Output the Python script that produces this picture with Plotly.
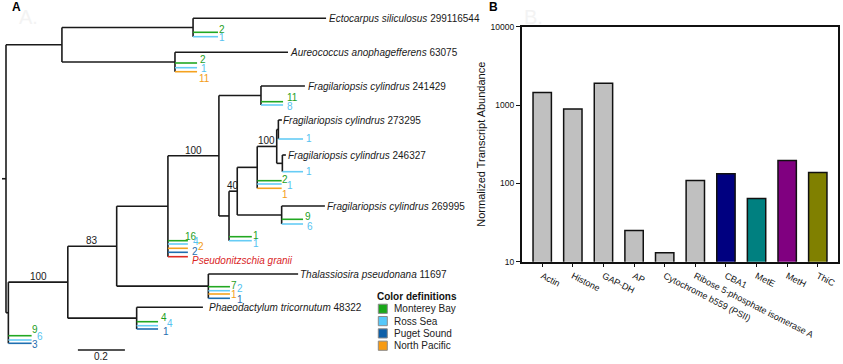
import plotly.graph_objects as go

FONT = "Liberation Sans, Arial, sans-serif"

# ---------------- Panel B data ----------------
genes = ["Actin", "Histone", "GAP-DH", "AP", "Cytochrome b559 (PSII)",
         "Ribose 5-phosphate isomerase A", "CBA1", "MetE", "MetH", "ThiC"]
abundance = [1450, 890, 1900, 25, 13, 109, 133, 64, 196, 138]
bar_colors = ["#c0c0c0"] * 6 + ["#000080", "#008080", "#800080", "#808000"]
y_tickvals = [10, 100, 1000, 10000]
y_ticktext = ["10", "100", "1000", "10000"]

# ---------------- Panel A data (tree) ----------------
node_name = ["root", "A", "A1", "A2", "N1", "N2", "N3", "Nphaeo", "Nthal", "N4",
             "N5", "Nf241", "N6", "N7", "N9", "N8", "Nf273", "Nf246", "N10"]
node_parent = [None, "root", "A", "A", "root", "N1", "N2", "N2", "N3", "N3",
               "N4", "N5", "N5", "N6", "N7", "N9", "N8", "N8", "N7"]
node_depth = [0.0, 0.238, 0.796, 0.719, 0.010, 0.263, 0.471, 0.556, 0.861, 0.689,
              0.906, 1.085, 0.949, 0.984, 1.069, 1.152, 1.159, 1.176, 1.173]
support_node = ["N2", "N3", "N5", "N7", "N8"]
support_value = ["100", "83", "100", "40", "100"]
root_stem = 0.017

tip_parent = ["A1", "A1", "A1", "A2", "A2", "A2", "A2",
              "Nf241", "Nf241", "Nf241", "Nf273", "Nf273", "Nf246", "Nf246",
              "N9", "N9", "N9", "N10", "N10", "N10", "N6", "N6",
              "N4", "N4", "N4", "N4", "N4",
              "Nthal", "Nthal", "Nthal", "Nthal", "Nthal",
              "Nphaeo", "Nphaeo", "Nphaeo", "Nphaeo", "N1", "N1", "N1"]
tip_depth = [1.362, 0.902, 0.902, 1.200, 0.813, 0.813, 0.813,
             1.272, 1.179, 1.179, 1.174, 1.264, 1.191, 1.264,
             1.173, 1.173, 1.173, 1.357, 1.264, 1.264, 1.046, 1.046,
             0.774, 0.774, 0.774, 0.774, 0.774,
             1.243, 0.953, 0.953, 0.953, 0.953,
             0.838, 0.647, 0.647, 0.647, 0.109, 0.109, 0.109]
tip_row = [18.3, 32.3, 36.7, 52.3, 63.0, 67.7, 71.7,
           86.0, 101.7, 105.0, 120.0, 139.0, 155.0, 171.7,
           180.7, 184.0, 188.3, 206.0, 219.3, 224.0, 236.7, 240.7,
           240.7, 244.0, 248.3, 252.3, 256.7,
           274.0, 286.7, 290.7, 294.0, 298.3,
           307.3, 321.7, 325.7, 329.0, 335.7, 340.0, 343.3]
tip_region = ["taxon", "MB", "RS", "taxon", "MB", "RS", "NP",
              "taxon", "MB", "RS", "taxon", "RS", "taxon", "RS",
              "MB", "RS", "NP", "taxon", "MB", "RS", "MB", "RS",
              "MB", "RS", "NP", "PS", "ref",
              "taxon", "MB", "RS", "NP", "PS",
              "taxon", "MB", "RS", "PS", "MB", "RS", "PS"]
tip_label = ["<i>Ectocarpus siliculosus</i> 299116544", "2", "1",
             "<i>Aureococcus anophagefferens</i> 63075", "2", "1", "11",
             "<i>Fragilariopsis cylindrus</i> 241429", "11", "8",
             "<i>Fragilariopsis cylindrus</i> 273295", "1",
             "<i>Fragilariopsis cylindrus</i> 246327", "1",
             "2", "1", "1",
             "<i>Fragilariopsis cylindrus</i> 269995", "9", "6", "1", "1",
             "16", "4", "2", "2", "<i>Pseudonitzschia granii</i>",
             "<i>Thalassiosira pseudonana</i> 11697", "7", "2", "1", "1",
             "<i>Phaeodactylum tricornutum</i> 48322", "4", "4", "1",
             "9", "6", "3"]

region_key = ["MB", "RS", "PS", "NP"]
region_name = ["Monterey Bay", "Ross Sea", "Puget Sound", "North Pacific"]

scale_length = 0.2

# ---------------- styling (not data) ----------------
line_color = {"taxon": "#1a1a1a", "MB": "#22a822", "RS": "#66ccf5",
              "PS": "#1f6eb0", "NP": "#f5a21f", "ref": "#e02a22"}
text_color = {"taxon": "#1a1a1a", "MB": "#1ea01e", "RS": "#55c2f0",
              "PS": "#1f6eb0", "NP": "#f39c18", "ref": "#d9261f"}
legend_fill = {"MB": "#1aa81a", "RS": "#55c8fa", "PS": "#0d5fa8", "NP": "#f79a12"}
# label nudges in pixels (dx right, dy down) relative to the tip end
label_dx = [3, 1, 1, 2, 3, 4, 2, 3, 4, 4, 1, 3, 2, 3, 0.5, 5.5, 0, 2, 2, 4, 1.5, 1.5,
            -3, 5, 10, 4, 4, 2, 1, 7, 1, 7, 6, 3, 9, 5, 0.5, 5.5, 0.5]
label_dy = [0, -3, 1, 0, -3.7, 0.6, 6.6, 0, -4, 1.7, 0, -1, 0, 0, -1.7, 1, 5.7, 0,
            -2.6, 2.7, -1.7, 2.6, -4.7, -2.7, -1.6, -1.3, 3.3, 0, -1.5, -2.7, 0, 0.7,
            0, -4.7, -2, 2, -6, -3.3, 1]

PX_PER_UNIT = 235.0
W, H = 843, 364

# ---------------- tree layout computation ----------------
depth = dict(zip(node_name, node_depth))
parent = dict(zip(node_name, node_parent))
children = {n: [] for n in node_name}
for n, p in zip(node_name, node_parent):
    if p is not None:
        children[p].append(("node", n))
for i, p in enumerate(tip_parent):
    children[p].append(("tip", i))

row = {}


def compute_row(n):
    rows = []
    for kind, c in children[n]:
        if kind == "tip":
            rows.append(tip_row[c])
        else:
            rows.append(compute_row(c))
    row[n] = (min(rows) + max(rows)) / 2.0
    return row[n]


compute_row("root")


def child_rows(n):
    out = []
    for kind, c in children[n]:
        out.append(tip_row[c] if kind == "tip" else row[c])
    return out


fig = go.Figure()

# black internal skeleton
bx, by = [], []
for n in node_name:
    cr = child_rows(n)
    bx += [depth[n], depth[n], None]
    by += [min(cr), max(cr), None]
    if parent[n] is not None:
        bx += [depth[parent[n]], depth[n], None]
        by += [row[n], row[n], None]
bx += [depth["root"] - root_stem, depth["root"], None]
by += [row["root"], row["root"], None]

# tips grouped by region
seg = {k: ([], []) for k in line_color}
for i in range(len(tip_parent)):
    k = tip_region[i]
    seg[k][0].extend([depth[tip_parent[i]], tip_depth[i], None])
    seg[k][1].extend([tip_row[i], tip_row[i], None])

fig.add_trace(go.Scatter(x=bx, y=by, mode="lines", xaxis="x2", yaxis="y2",
                         line=dict(color=line_color["taxon"], width=1.6),
                         hoverinfo="skip", showlegend=False))
for k in ["taxon", "ref", "PS", "NP", "RS", "MB"]:
    fig.add_trace(go.Scatter(x=seg[k][0], y=seg[k][1], mode="lines",
                             xaxis="x2", yaxis="y2",
                             line=dict(color=line_color[k], width=1.6),
                             hoverinfo="skip", showlegend=False))

# scale bar
sb_x0 = 0.306
sb_row = 350
fig.add_trace(go.Scatter(x=[sb_x0, sb_x0 + scale_length], y=[sb_row, sb_row],
                         mode="lines", xaxis="x2", yaxis="y2",
                         line=dict(color="#1a1a1a", width=1.6),
                         hoverinfo="skip", showlegend=False))

annotations = []
# tip labels
for i, lab in enumerate(tip_label):
    k = tip_region[i]
    annotations.append(dict(
        x=tip_depth[i], y=tip_row[i], xref="x2", yref="y2", text=lab,
        showarrow=False, xanchor="left", yanchor="middle",
        xshift=label_dx[i] - 1, yshift=-label_dy[i],
        font=dict(family=FONT, size=10, color=text_color[k]), borderpad=0))

# support values
for n, v in zip(support_node, support_value):
    annotations.append(dict(
        x=(depth[parent[n]] + depth[n]) / 2, y=row[n], xref="x2", yref="y2",
        text=v, showarrow=False, xanchor="center", yanchor="bottom", yshift=-1,
        font=dict(family=FONT, size=10, color="#1a1a1a"), borderpad=0))

# scale bar label
annotations.append(dict(x=sb_x0 + scale_length / 2, y=sb_row, xref="x2", yref="y2",
                        text=str(scale_length), showarrow=False, xanchor="center",
                        yanchor="top", yshift=0,
                        font=dict(family=FONT, size=10, color="#1a1a1a"), borderpad=0))

# colour legend (drawn manually)
leg_x, leg_y0, leg_dy = 378.3, 304, 12.3
annotations.append(dict(x=376 / W, y=1 - 296 / H, xref="paper", yref="paper",
                        text="<b>Color definitions</b>", showarrow=False,
                        xanchor="left", yanchor="middle",
                        font=dict(family=FONT, size=10, color="#111"), borderpad=0))
shapes = []
for j, (k, nm) in enumerate(zip(region_key, region_name)):
    yc = leg_y0 + 4.8 + j * leg_dy
    shapes.append(dict(type="rect", xref="paper", yref="paper",
                       x0=leg_x / W, x1=(leg_x + 9) / W,
                       y0=1 - (yc + 4.6) / H, y1=1 - (yc - 4.6) / H,
                       fillcolor=legend_fill[k], line=dict(color="#8a8a8a", width=1)))
    annotations.append(dict(x=(leg_x + 15) / W, y=1 - yc / H, xref="paper", yref="paper",
                            text=nm, showarrow=False, xanchor="left", yanchor="middle",
                            font=dict(family=FONT, size=10, color="#222"), borderpad=0))

# panel letters and faint ghost letters
annotations += [
    dict(x=17 / W, y=1 - 17 / H, xref="paper", yref="paper", text="A.", showarrow=False,
         xanchor="left", yanchor="middle", font=dict(family=FONT, size=20, color="#f3f3f3")),
    dict(x=522 / W, y=1 - 17 / H, xref="paper", yref="paper", text="B.", showarrow=False,
         xanchor="left", yanchor="middle", font=dict(family=FONT, size=20, color="#f3f3f3")),
    dict(x=10 / W, y=1 - 6.5 / H, xref="paper", yref="paper", text="<b>A</b>",
         showarrow=False, xanchor="left", yanchor="middle",
         font=dict(family=FONT, size=12, color="#000")),
    dict(x=487 / W, y=1 - 6.5 / H, xref="paper", yref="paper", text="<b>B</b>",
         showarrow=False, xanchor="left", yanchor="middle",
         font=dict(family=FONT, size=12, color="#000")),
]

# ---------------- Panel B bars ----------------
fig.add_trace(go.Bar(x=genes, y=abundance, xaxis="x", yaxis="y", width=0.6,
                     marker=dict(color=bar_colors, line=dict(color="#111", width=1.5)),
                     showlegend=False, hoverinfo="x+y"))

fig.update_layout(
    width=W, height=H, autosize=False,
    margin=dict(l=0, r=0, t=0, b=0, autoexpand=False),
    paper_bgcolor="white", plot_bgcolor="rgba(0,0,0,0)",
    font=dict(family=FONT, color="#111"),
    showlegend=False, bargap=0.4,
    xaxis=dict(domain=[521.7 / W, 838.3 / W], anchor="y", range=[-0.67, 9.67],
               showline=True, linecolor="#111", linewidth=1.5, mirror=True,
               ticks="outside", ticklen=4, tickwidth=1, tickcolor="#111",
               tickangle=27, tickfont=dict(family=FONT, size=9, color="#111"),
               showgrid=False, zeroline=False, automargin=False),
    yaxis=dict(domain=[1 - 261.7 / H, 1 - 26.7 / H], anchor="x", type="log", range=[1, 4],
               tickvals=y_tickvals, ticktext=y_ticktext,
               showline=True, linecolor="#111", linewidth=1.5, mirror=True,
               ticks="outside", ticklen=4, tickwidth=1, tickcolor="#111",
               tickfont=dict(family=FONT, size=8.5, color="#111"),
               showgrid=False, zeroline=False, automargin=False,
               title=dict(text="Normalized Transcript Abundance", standoff=3,
                          font=dict(family=FONT, size=11, color="#111"))),
    xaxis2=dict(domain=[0, 1], anchor="y2", range=[-6 / PX_PER_UNIT, (W - 6) / PX_PER_UNIT],
                visible=False, fixedrange=True),
    yaxis2=dict(domain=[0, 1], anchor="x2", range=[H, 0], visible=False, fixedrange=True),
    annotations=annotations, shapes=shapes,
)

fig.write_html("out.html",
               config={"displayModeBar": False, "responsive": False},
               post_script="document.body.style.margin='0px';"
                           "document.body.style.padding='0px';"
                           "document.body.style.overflow='hidden';")
